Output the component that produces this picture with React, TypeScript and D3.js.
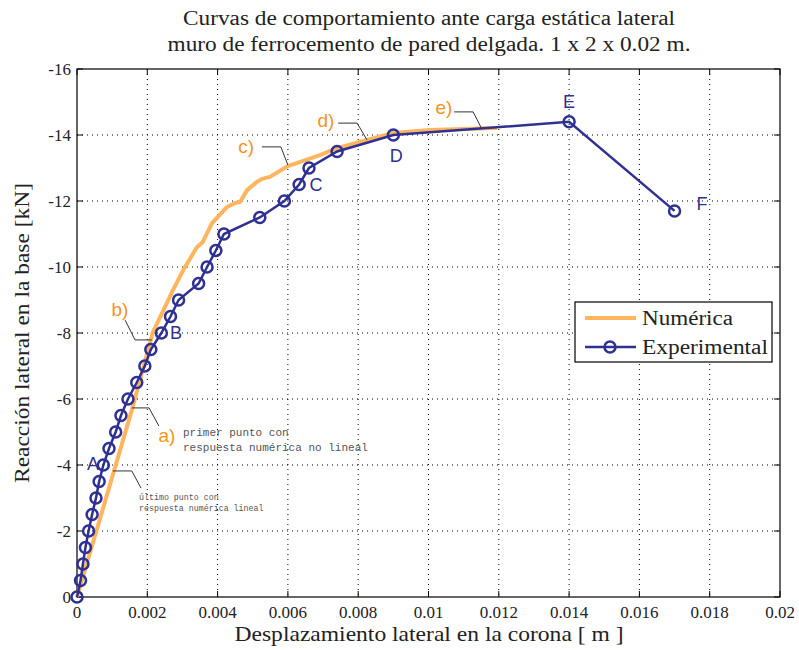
import React from "react";
import * as d3 from "d3";

const expX = [0, 0.0001, 0.00017, 0.00024, 0.00033, 0.00043, 0.00054, 0.00063, 0.00075, 0.00091, 0.0011, 0.00125, 0.00145, 0.0017, 0.00193, 0.0021, 0.0024, 0.00266, 0.00289, 0.00346, 0.0037, 0.00395, 0.00418, 0.0052, 0.0059, 0.00632, 0.0066, 0.0074, 0.009, 0.014, 0.017];
const expY = [0, -0.5, -1, -1.5, -2, -2.5, -3, -3.5, -4, -4.5, -5, -5.5, -6, -6.5, -7, -7.5, -8, -8.5, -9, -9.5, -10, -10.5, -11, -11.5, -12, -12.5, -13, -13.5, -14, -14.4, -11.7];

const numX = [0, 0.00157, 0.00216, 0.00242, 0.00273, 0.00302, 0.00341, 0.00358, 0.00384, 0.00427, 0.0045, 0.00464, 0.00484, 0.00512, 0.00526, 0.00549, 0.006, 0.00691, 0.0074, 0.00825, 0.009, 0.01004, 0.01195];
const numY = [0, -5.7, -8.03, -8.6, -9.3, -9.9, -10.6, -10.76, -11.33, -11.82, -11.94, -11.97, -12.33, -12.58, -12.67, -12.73, -13.06, -13.39, -13.6, -13.85, -14.06, -14.15, -14.21];

const xTicks = [0, 0.002, 0.004, 0.006, 0.008, 0.01, 0.012, 0.014, 0.016, 0.018, 0.02];
const xTickLabels = ["0", "0.002", "0.004", "0.006", "0.008", "0.01", "0.012", "0.014", "0.016", "0.018", "0.02"];
const yTicks = [0, -2, -4, -6, -8, -10, -12, -14, -16];
const yTickLabels = ["0", "-2", "-4", "-6", "-8", "-10", "-12", "-14", "-16"];

// annotation anchors (data coords)
const pointLabels = [
  { t: "A", x: 0.000455, y: -4.03 },
  { t: "B", x: 0.00282, y: -8.0 },
  { t: "C", x: 0.0068, y: -12.48 },
  { t: "D", x: 0.00908, y: -13.36 },
  { t: "E", x: 0.0140, y: -15.0 },
  { t: "F", x: 0.01778, y: -11.9 },
];
const stageLabels = [
  { t: "a)", x: 0.00256, y: -4.88 },
  { t: "b)", x: 0.00122, y: -8.7 },
  { t: "c)", x: 0.00481, y: -13.64 },
  { t: "d)", x: 0.00708, y: -14.45 },
  { t: "e)", x: 0.01044, y: -14.82 },
];
// leader lines: [x0,y0,x1,y1,x2,y2] in data coords
const leaders = [
  [0.00156, -5.73, 0.00205, -5.73, 0.00233, -5.18],
  [0.00102, -3.82, 0.00156, -3.82, 0.00182, -3.3],
  [0.00137, -8.39, 0.00165, -7.79, 0.00213, -7.79],
  [0.00526, -13.64, 0.0058, -13.64, 0.006, -13.09],
  [0.00743, -14.36, 0.00797, -14.36, 0.00825, -13.85],
  [0.01073, -14.7, 0.01127, -14.7, 0.01152, -14.18],
];

const W = 799, H = 650;
const L = 77, R = 780, T = 69, B = 597;
const BLUE = "#2E3192";
const ORANGE = "#FFB55E";
const ORANGE_T = "#F7931E";

export default function App() {
  const x = d3.scaleLinear().domain([0, 0.02]).range([L, R]);
  const y = d3.scaleLinear().domain([0, -16]).range([B, T]);
  const numPts: [number, number][] = numX.map((v, i) => [v, numY[i]]);
  const expPts: [number, number][] = expX.map((v, i) => [v, expY[i]]);
  const line = d3.line<[number, number]>().x(d => x(d[0])).y(d => y(d[1]));
  const serif = "'Liberation Serif', 'Times New Roman', serif";
  const sans = "'Liberation Sans', Arial, sans-serif";
  const mono = "'Liberation Mono', 'DejaVu Sans Mono', monospace";
  return (
    <svg width={W} height={H} style={{ position: "absolute", left: 0, top: 0, background: "#fff" }}>
      <rect x={0} y={0} width={W} height={H} fill="#fff" />
      {/* grid */}
      {xTicks.slice(1, -1).map((t, i) => (
        <line key={"gx" + i} x1={x(t)} x2={x(t)} y1={T} y2={B} stroke="#000" strokeWidth={1} strokeDasharray="1,4" />
      ))}
      {yTicks.slice(1, -1).map((t, i) => (
        <line key={"gy" + i} x1={L} x2={R} y1={y(t)} y2={y(t)} stroke="#000" strokeWidth={1} strokeDasharray="1,4" />
      ))}
      {/* ticks */}
      {xTicks.map((t, i) => (
        <g key={"tx" + i}>
          <line x1={x(t)} x2={x(t)} y1={B} y2={B - 6} stroke="#000" />
          <line x1={x(t)} x2={x(t)} y1={T} y2={T + 6} stroke="#000" />
          <text x={x(t)} y={B + 21} fontFamily={serif} fontSize={17} textAnchor="middle" fill="#222">{xTickLabels[i]}</text>
        </g>
      ))}
      {yTicks.map((t, i) => (
        <g key={"ty" + i}>
          <line x1={L} x2={L + 6} y1={y(t)} y2={y(t)} stroke="#000" />
          <line x1={R} x2={R - 6} y1={y(t)} y2={y(t)} stroke="#000" />
          <text x={L - 6} y={y(t) + 6} fontFamily={serif} fontSize={17} textAnchor="end" fill="#222">{yTickLabels[i]}</text>
        </g>
      ))}
      <rect x={L} y={T} width={R - L} height={B - T} fill="none" stroke="#000" strokeWidth={1.2} />
      {/* series */}
      <path d={line(numPts) || ""} fill="none" stroke={ORANGE} strokeWidth={4} strokeLinejoin="round" />
      <path d={line(expPts) || ""} fill="none" stroke={BLUE} strokeWidth={2.5} />
      {expPts.map((p, i) => (
        <circle key={"c" + i} cx={x(p[0])} cy={y(p[1])} r={5.5} fill="none" stroke={BLUE} strokeWidth={2.5} />
      ))}
      {/* leaders */}
      {leaders.map((l, i) => (
        <polyline key={"l" + i} points={`${x(l[0])},${y(l[1])} ${x(l[2])},${y(l[3])} ${x(l[4])},${y(l[5])}`} fill="none" stroke="#333" strokeWidth={1} />
      ))}
      {stageLabels.map((s, i) => (
        <text key={"s" + i} x={x(s.x)} y={y(s.y)} fontFamily={sans} fontSize={19} fill={ORANGE_T} textAnchor="middle" dominantBaseline="central">{s.t}</text>
      ))}
      {pointLabels.map((s, i) => (
        <text key={"p" + i} x={x(s.x)} y={y(s.y)} fontFamily={sans} fontSize={18} fill={BLUE} textAnchor="middle" dominantBaseline="central">{s.t}</text>
      ))}
      <text x={183} y={436} fontFamily={mono} fontSize={11} fill="#555">primer punto con</text>
      <text x={183} y={451} fontFamily={mono} fontSize={11} fill="#555">respuesta numérica no lineal</text>
      <text x={139} y={500} fontFamily={mono} fontSize={8.3} fill="#555">último punto con</text>
      <text x={139} y={511} fontFamily={mono} fontSize={8.3} fill="#555">respuesta numérica lineal</text>
      {/* legend */}
      <rect x={575} y={302} width={197} height={60} fill="#fff" stroke="#000" strokeWidth={1.2} />
      <line x1={585} x2={636} y1={318} y2={318} stroke={ORANGE} strokeWidth={4} />
      <text x={642} y={325} fontFamily={serif} fontSize={20} fill="#222" textLength={91} lengthAdjust="spacingAndGlyphs">Numérica</text>
      <line x1={585} x2={636} y1={347} y2={347} stroke={BLUE} strokeWidth={2.5} />
      <circle cx={610} cy={347} r={5.5} fill="none" stroke={BLUE} strokeWidth={2.5} />
      <text x={642} y={354} fontFamily={serif} fontSize={20} fill="#222" textLength={126} lengthAdjust="spacingAndGlyphs">Experimental</text>
      {/* titles */}
      <text x={429} y={25} fontFamily={serif} fontSize={20} textAnchor="middle" fill="#222" textLength={492} lengthAdjust="spacingAndGlyphs">Curvas de comportamiento ante carga estática lateral</text>
      <text x={429} y={51} fontFamily={serif} fontSize={20} textAnchor="middle" fill="#222" textLength={523} lengthAdjust="spacingAndGlyphs">muro de ferrocemento de pared delgada. 1 x 2 x 0.02 m.</text>
      <text x={429} y={641} fontFamily={serif} fontSize={21} textAnchor="middle" fill="#222" textLength={389} lengthAdjust="spacingAndGlyphs">Desplazamiento lateral en la corona [ m ]</text>
      <text transform={`translate(29,${(T + B) / 2}) rotate(-90)`} fontFamily={serif} fontSize={21} textAnchor="middle" fill="#222" textLength={300} lengthAdjust="spacingAndGlyphs">Reacción lateral en la base [kN]</text>
    </svg>
  );
}
